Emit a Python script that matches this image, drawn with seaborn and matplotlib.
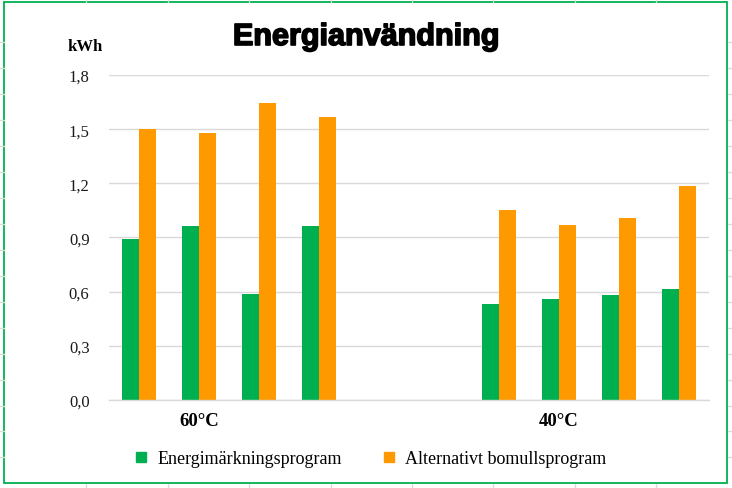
import matplotlib
matplotlib.use("Agg")
import matplotlib.pyplot as plt
import matplotlib.patheffects as pe
import seaborn as sns
import pandas as pd
from matplotlib.patches import Rectangle
from matplotlib.lines import Line2D

# ---- data ----
slots = ["60-1", "60-2", "60-3", "60-4", "tom-1", "tom-2", "40-1", "40-2", "40-3", "40-4"]
data_slots = ["60-1", "60-2", "60-3", "60-4", "40-1", "40-2", "40-3", "40-4"]
energi = [0.89, 0.963, 0.587, 0.963, 0.53, 0.56, 0.58, 0.615]
alternativ = [1.50, 1.478, 1.645, 1.567, 1.052, 0.969, 1.008, 1.185]
series_names = ["Energimärkningsprogram", "Alternativt bomullsprogram"]
group_labels = ["60°C", "40°C"]
group_label_slots = ["60-2", "40-2"]
yticks = [0.0, 0.3, 0.6, 0.9, 1.2, 1.5, 1.8]
ytick_labels = ["0,0", "0,3", "0,6", "0,9", "1,2", "1,5", "1,8"]

df = pd.DataFrame({
    "slot": data_slots * 2,
    "serie": [series_names[0]] * len(data_slots) + [series_names[1]] * len(data_slots),
    "kWh": energi + alternativ,
})

sns.set_theme(style="white")
plt.rcParams["font.family"] = ["Liberation Serif", "DejaVu Serif"]
plt.rcParams["text.color"] = "black"
plt.rcParams["xtick.color"] = "black"
plt.rcParams["ytick.color"] = "black"

fig = plt.figure(figsize=(7.32, 4.89), dpi=100)
ax = fig.add_axes([109 / 732, 1 - 401 / 489, 600 / 732, 325 / 489])

palette = {series_names[0]: "#00B050", series_names[1]: "#FF9900"}
sns.barplot(data=df, x="slot", y="kWh", hue="serie", order=slots,
            hue_order=series_names, palette=palette, width=0.567,
            saturation=1, ax=ax, legend=True, errorbar=None, linewidth=0)

ax.set_xlim(-0.5, len(slots) - 0.5)
ax.set_ylim(0, 1.8)
ax.set_yticks(yticks)
ax.set_yticklabels(ytick_labels, fontsize=12, color="#1a1a1a")
ax.yaxis.grid(True, color="#D9D9D9", linewidth=1)
ax.set_axisbelow(True)
ax.set_xlabel("")
ax.set_ylabel("")
for s in ["left", "right", "top"]:
    ax.spines[s].set_visible(False)
ax.spines["bottom"].set_color("#D9D9D9")
ax.spines["bottom"].set_linewidth(1)
ax.tick_params(axis="y", length=0, pad=14)

# category labels and boundary ticks
pos = [slots.index(s) for s in group_label_slots]
ax.set_xticks(pos)
ax.set_xticklabels(group_labels, fontsize=13.5, fontweight="bold", color="black")
ax.tick_params(axis="x", which="major", length=0, pad=9)
ax.set_xticks([i - 0.5 for i in range(len(slots) + 1)], minor=True)
ax.tick_params(axis="x", which="minor", length=5, color="#D9D9D9", width=1)

# legend
handles = [Line2D([0], [0], marker="s", color="none", markerfacecolor=palette[n],
                  markeredgecolor=palette[n], markersize=7, label=n) for n in series_names]
ax.get_legend().remove()
fig.legend(handles=handles, loc="center", bbox_to_anchor=(370 / 732, 1 - 460 / 489),
           ncol=2, frameon=False, fontsize=13, handlelength=0.8, handletextpad=0.5,
           columnspacing=2.2, labelcolor="black")

# titles
fig.text(366 / 732, 1 - 38 / 489, "Energianvändning", ha="center", va="center",
         fontsize=22, fontweight="bold", family="Liberation Sans", color="black",
         path_effects=[pe.withStroke(linewidth=1.2, foreground="black")])
fig.text(85 / 732, 1 - 47 / 489, "kWh", ha="center", va="center",
         fontsize=12, fontweight="bold", color="black")

# spreadsheet grid traces outside the chart and green border
for x in [86, 168, 249, 331, 412, 493, 575, 656]:
    fig.add_artist(Line2D([x / 732, x / 732], [1 - 2.5 / 489, 1], color="#DADADA",
                          lw=1, transform=fig.transFigure))
    fig.add_artist(Line2D([x / 732, x / 732], [0, 1 - 485 / 489], color="#DADADA",
                          lw=1, transform=fig.transFigure))
for y in [43, 69, 95, 121, 147, 173, 199, 225, 251, 277, 303, 329, 355, 381, 407, 432, 458]:
    fig.add_artist(Line2D([728 / 732, 1], [1 - y / 489, 1 - y / 489], color="#DADADA",
                          lw=1, transform=fig.transFigure))
    fig.add_artist(Line2D([0, 4 / 732], [1 - y / 489, 1 - y / 489], color="#DADADA",
                          lw=1, transform=fig.transFigure))
fig.add_artist(Rectangle((4 / 732, 1 - 484 / 489), 723 / 732, 481.5 / 489,
                         fill=False, edgecolor="#00B050", lw=1.3,
                         transform=fig.transFigure))

fig.savefig("out.png", dpi=100)
